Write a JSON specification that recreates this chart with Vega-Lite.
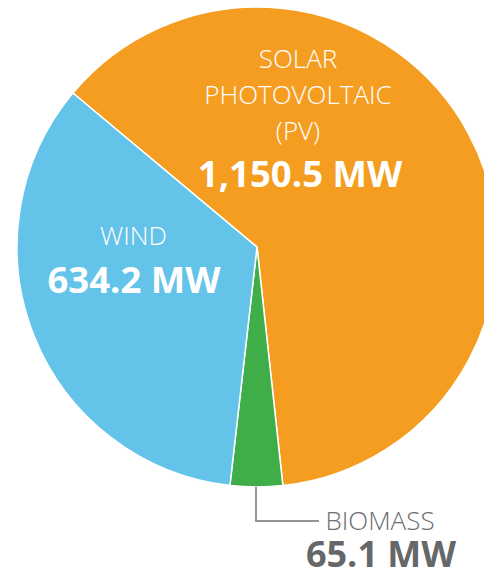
{
  "$schema": "https://vega.github.io/schema/vega-lite/v6.json",
  "width": 484,
  "height": 572,
  "padding": 0,
  "autosize": {"type": "none"},
  "background": "white",
  "config": {"view": {"stroke": null}, "text": {"font": "Open Sans"}},
  "data": {
    "values": [
      {"category": "Solar", "name": "SOLAR\nPHOTOVOLTAIC\n(PV)", "value": 1150.5, "ord": 1},
      {"category": "Biomass", "name": "BIOMASS", "value": 65.1, "ord": 2},
      {"category": "Wind", "name": "WIND", "value": 634.2, "ord": 3}
    ]
  },
  "transform": [
    {"calculate": "format(datum.value, ',.1f') + ' MW'", "as": "label"}
  ],
  "layer": [
    {
      "mark": {"type": "arc", "outerRadius": 240, "stroke": "white", "strokeWidth": 1.5},
      "encoding": {
        "x": {"datum": 0, "type": "quantitative", "scale": {"domain": [-1.070833, 0.945833], "nice": false, "zero": false}, "axis": null},
        "y": {"datum": 0, "type": "quantitative", "scale": {"domain": [-1.354167, 1.029167], "nice": false, "zero": false}, "axis": null},
        "theta": {"field": "value", "type": "quantitative", "stack": true, "scale": {"range": [5.4088, 11.692]}},
        "order": {"field": "ord", "type": "quantitative"},
        "color": {"field": "category", "type": "nominal", "legend": null,
          "scale": {"domain": ["Solar", "Biomass", "Wind"], "range": ["#F59D20", "#3FAE49", "#63C3E9"]}}
      }
    },
    {
      "transform": [{"filter": "datum.category == 'Biomass'"}],
      "mark": {"type": "rule", "color": "#939598", "strokeWidth": 2},
      "encoding": {
        "x": {"datum": -0.004167, "type": "quantitative", "scale": {"domain": [-1.070833, 0.945833], "nice": false, "zero": false}, "axis": null},
        "y": {"datum": -1.0, "type": "quantitative", "scale": {"domain": [-1.354167, 1.029167], "nice": false, "zero": false}, "axis": null},
        "y2": {"datum": -1.141667}
      }
    },
    {
      "transform": [{"filter": "datum.category == 'Biomass'"}],
      "mark": {"type": "rule", "color": "#939598", "strokeWidth": 2},
      "encoding": {
        "x": {"datum": -0.008333, "type": "quantitative", "scale": {"domain": [-1.070833, 0.945833], "nice": false, "zero": false}, "axis": null},
        "x2": {"datum": 0.258333},
        "y": {"datum": -1.141667, "type": "quantitative", "scale": {"domain": [-1.354167, 1.029167], "nice": false, "zero": false}, "axis": null}
      }
    },
    {
      "transform": [{"filter": "datum.category == 'Solar'"}],
      "mark": {"type": "text", "align": "center", "baseline": "alphabetic", "fontSize": 26, "fontWeight": 300, "color": "white", "lineBreak": "\n", "lineHeight": 36},
      "encoding": {
        "x": {"datum": 0.1708, "type": "quantitative", "scale": {"domain": [-1.070833, 0.945833], "nice": false, "zero": false}, "axis": null},
        "y": {"datum": 0.745833, "type": "quantitative", "scale": {"domain": [-1.354167, 1.029167], "nice": false, "zero": false}, "axis": null},
        "text": {"field": "name"}
      }
    },
    {
      "transform": [{"filter": "datum.category == 'Solar'"}],
      "mark": {"type": "text", "align": "center", "baseline": "alphabetic", "fontSize": 36.5, "fontWeight": "bold", "color": "white"},
      "encoding": {
        "x": {"datum": 0.1792, "type": "quantitative", "scale": {"domain": [-1.070833, 0.945833], "nice": false, "zero": false}, "axis": null},
        "y": {"datum": 0.25, "type": "quantitative", "scale": {"domain": [-1.354167, 1.029167], "nice": false, "zero": false}, "axis": null},
        "text": {"field": "label"}
      }
    },
    {
      "transform": [{"filter": "datum.category == 'Wind'"}],
      "mark": {"type": "text", "align": "center", "baseline": "alphabetic", "fontSize": 26, "fontWeight": 300, "color": "white"},
      "encoding": {
        "x": {"datum": -0.5146, "type": "quantitative", "scale": {"domain": [-1.070833, 0.945833], "nice": false, "zero": false}, "axis": null},
        "y": {"datum": 0.008333, "type": "quantitative", "scale": {"domain": [-1.354167, 1.029167], "nice": false, "zero": false}, "axis": null},
        "text": {"field": "name"}
      }
    },
    {
      "transform": [{"filter": "datum.category == 'Wind'"}],
      "mark": {"type": "text", "align": "center", "baseline": "alphabetic", "fontSize": 36.5, "fontWeight": "bold", "color": "white"},
      "encoding": {
        "x": {"datum": -0.5125, "type": "quantitative", "scale": {"domain": [-1.070833, 0.945833], "nice": false, "zero": false}, "axis": null},
        "y": {"datum": -0.191667, "type": "quantitative", "scale": {"domain": [-1.354167, 1.029167], "nice": false, "zero": false}, "axis": null},
        "text": {"field": "label"}
      }
    },
    {
      "transform": [{"filter": "datum.category == 'Biomass'"}],
      "mark": {"type": "text", "align": "center", "baseline": "alphabetic", "fontSize": 26, "fontWeight": 300, "color": "#6D6E71"},
      "encoding": {
        "x": {"datum": 0.5125, "type": "quantitative", "scale": {"domain": [-1.070833, 0.945833], "nice": false, "zero": false}, "axis": null},
        "y": {"datum": -1.179167, "type": "quantitative", "scale": {"domain": [-1.354167, 1.029167], "nice": false, "zero": false}, "axis": null},
        "text": {"field": "name"}
      }
    },
    {
      "transform": [{"filter": "datum.category == 'Biomass'"}],
      "mark": {"type": "text", "align": "center", "baseline": "alphabetic", "fontSize": 36, "fontWeight": "bold", "color": "#666769"},
      "encoding": {
        "x": {"datum": 0.5167, "type": "quantitative", "scale": {"domain": [-1.070833, 0.945833], "nice": false, "zero": false}, "axis": null},
        "y": {"datum": -1.333333, "type": "quantitative", "scale": {"domain": [-1.354167, 1.029167], "nice": false, "zero": false}, "axis": null},
        "text": {"field": "label"}
      }
    }
  ]
}
